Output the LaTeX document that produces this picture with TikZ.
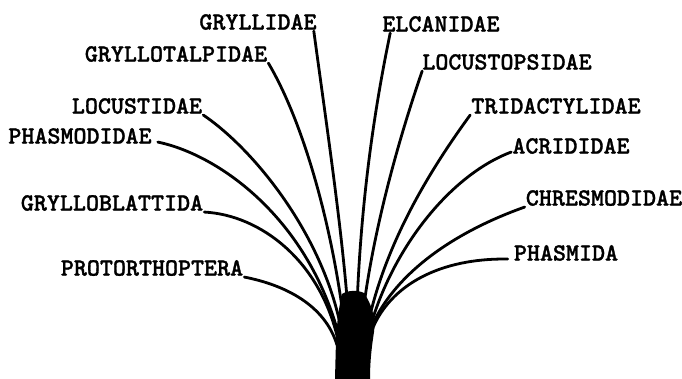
\documentclass[tikz,border=0pt]{standalone}
\usepackage{fontspec}
\newfontfamily\tw{lmmonolt10-bold.otf}[FakeBold=1.2]
\tikzset{
  label/.style={font=\tw\fontsize{24.8}{27}\selectfont, inner sep=1pt, anchor=center},
  branch/.style={line width=2.8pt, line cap=round, black},
}
\begin{document}
\begin{tikzpicture}[x=1pt,y=-1pt]
\useasboundingbox (0,0) rectangle (682,379);
% labels
\node[label] (gryllidae) at (258,22) {GRYLLIDAE};
\node[label] (elcanidae) at (441,24) {ELCANIDAE};
\node[label] (gryllotalpidae) at (176,54) {GRYLLOTALPIDAE};
\node[label] (locustopsidae) at (507,62) {LOCUSTOPSIDAE};
\node[label] (locustidae) at (137,106) {LOCUSTIDAE};
\node[label] (tridactylidae) at (556,106) {TRIDACTYLIDAE};
\node[label] (phasmodidae) at (80,136) {PHASMODIDAE};
\node[label] (acrididae) at (571,146) {ACRIDIDAE};
\node[label] (grylloblattida) at (112,203) {GRYLLOBLATTIDA};
\node[label] (chresmodidae) at (604,198) {CHRESMODIDAE};
\node[label] (protorthoptera) at (152,268) {PROTORTHOPTERA};
\node[label] (phasmida) at (566,253) {PHASMIDA};
% trunk
\coordinate (trunkL) at (335,379);
\coordinate (trunkR) at (370,379);
\fill (trunkL) -- (336,340) .. controls (337,322) and (339,306) .. (342,294)
  .. controls (348,290) and (358,290) .. (364,293)
  .. controls (370,302) and (376,315) .. (374,332)
  .. controls (372,345) and (370,360) .. (trunkR) -- cycle;
% branches
\draw[branch] ([xshift=-4pt]gryllidae.south east) .. controls (330,150) and (345,250) .. (350,340);
\draw[branch] ([xshift=9pt]elcanidae.south west) .. controls (368,140) and (358,240) .. (356,340);
\draw[branch] (gryllotalpidae.south east) .. controls (305,125) and (335,235) .. (346,340);
\draw[branch] ([xshift=1pt]locustopsidae.south west) .. controls (395,150) and (368,250) .. (360,340);
\draw[branch] (locustidae.south east) .. controls (255,150) and (328,240) .. (343,340);
\draw[branch] (tridactylidae.south west) .. controls (430,170) and (380,250) .. (365,340);
\draw[branch] ([xshift=5pt,yshift=3pt]phasmodidae.south east) .. controls (220,155) and (310,220) .. (340,340);
\draw[branch] ([yshift=3pt]acrididae.south west) .. controls (450,175) and (390,250) .. (368,335);
\draw[branch] (grylloblattida.south east) .. controls (260,215) and (320,260) .. (338,340);
\draw[branch] (chresmodidae.south west) .. controls (460,230) and (395,270) .. (370,330);
\draw[branch] (protorthoptera.south east) .. controls (285,285) and (325,305) .. (337,345);
\draw[branch] ([xshift=-5pt,yshift=3pt]phasmida.south west) .. controls (440,258) and (390,285) .. (372,330);
\end{tikzpicture}
\end{document}
